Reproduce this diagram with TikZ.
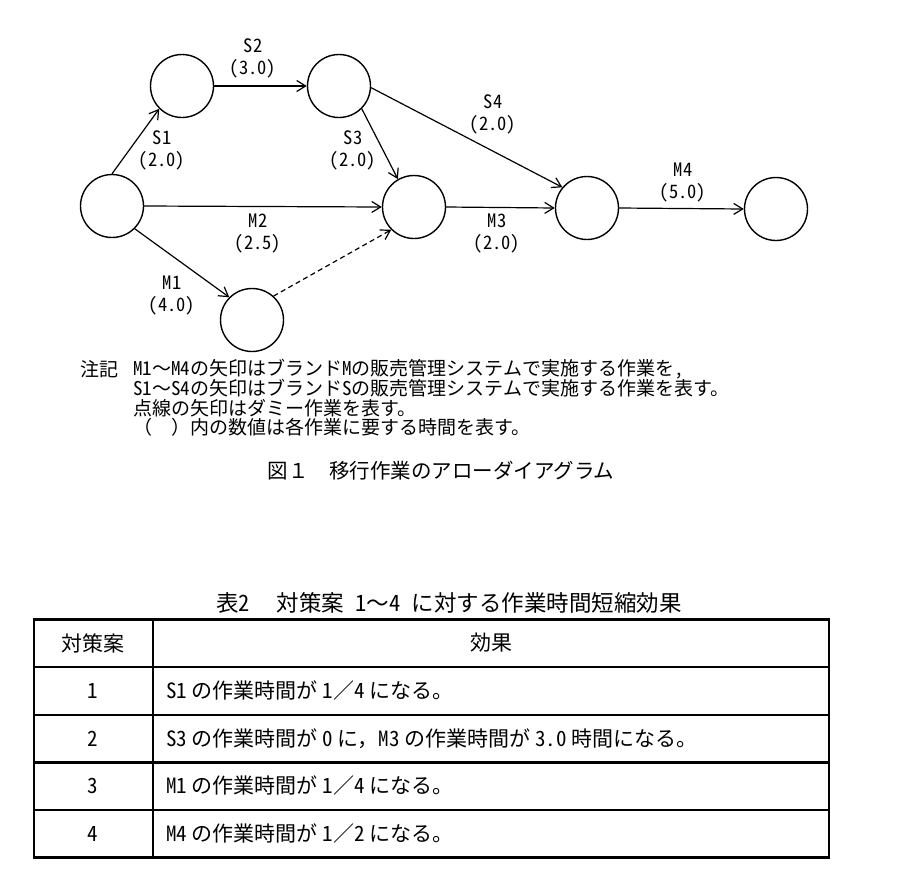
\documentclass[tikz,border=0pt]{standalone}
\usepackage{fontspec}
\setmainfont{Noto Sans CJK JP}
\newfontfamily\hwfont[RawFeature=+hwid]{Noto Sans CJK JP}
\newcommand{\hwtxt}[1]{{\hwfont #1}}
\usetikzlibrary{arrows.meta}
\begin{document}
\begin{tikzpicture}[x=1pt,y=-1pt,
  ev/.style={circle,draw,line width=1.4pt,minimum size=63pt,inner sep=0pt},
  act/.style={line width=1.2pt,-{Straight Barb[length=9pt,width=11pt]}},
  dummy/.style={act,dash pattern=on 5pt off 3.5pt},
  lab/.style={align=center,font=\hwfont\fontsize{18.5}{22}\selectfont,inner sep=0pt},
  note/.style={anchor=west,inner sep=0pt,font=\fontsize{19}{19}\selectfont},
  cell/.style={inner sep=0pt,font=\fontsize{21}{21}\selectfont},
  rulel/.style={line width=2.2pt}
]
\useasboundingbox (0,0) rectangle (900,887);
\fill[white] (0,0) rectangle (900,887);

% events
\node[ev] (A) at (112,206) {};
\node[ev] (B) at (182,86) {};
\node[ev] (C) at (339,86) {};
\node[ev] (D) at (414,207) {};
\node[ev] (E) at (252,320) {};
\node[ev] (F) at (587,208) {};
\node[ev] (G) at (776,209) {};

% activities
\draw[act] (A.90) -- (B.225);
\draw[act] (B.east) -- (C.west);
\draw[act] (C.-45) -- (D.120);
\draw[act] (C.-3) -- (F.140);
\draw[act] (A.east) -- (D.west);
\draw[act] (A.-45) -- (E.135);
\draw[dummy] (E.48) -- (D.225);
\draw[act] (D.east) -- (F.west);
\draw[act] (F.east) -- (G.west);

% labels
\node[lab] (lS2) at (253,58) {S2\\(3.0)};
\node[lab] (lS1) at (162,150) {S1\\(2.0)};
\node[lab] (lS3) at (353,150) {S3\\(2.0)};
\node[lab] (lM2) at (258,233.5) {M2\\(2.5)};
\node[lab] (lM1) at (172,295.5) {M1\\(4.0)};
\node[lab] (lS4) at (493,114) {S4\\(2.0)};
\node[lab] (lM3) at (497,234) {M3\\(2.0)};
\node[lab] (lM4) at (683,183) {M4\\(5.0)};

% notes
\node[note] (n0) at (80,369) {注記};
\node[note] (n1) at (133,369) {\hwtxt{M1}～\hwtxt{M4}の矢印はブランド\hwtxt{M}の販売管理システムで実施する作業を\hwtxt{,}};
\node[note] (n2) at (133,388.5) {\hwtxt{S1}～\hwtxt{S4}の矢印はブランド\hwtxt{S}の販売管理システムで実施する作業を表す。};
\node[note] (n3) at (133,408) {点線の矢印はダミー作業を表す。};
\node[note] (n4) at (133,427.5) {（　）内の数値は各作業に要する時間を表す。};

% caption
\node[inner sep=0pt,font=\fontsize{20.5}{20.5}\selectfont] (cap) at (441,471) {図１　移行作業のアローダイアグラム};

% table title
\node[inner sep=0pt,font=\fontsize{22.5}{22.5}\selectfont] (ttl) at (449,603) {表\hwtxt{2}\hspace{1.2em}対策案\hwtxt{ 1}～\hwtxt{4 }に対する作業時間短縮効果};

% table
\draw[rulel] (34,619.5) rectangle (829,857.5);
\draw[rulel] (34,667) -- (829,667);
\draw[rulel] (34,715) -- (829,715);
\draw[rulel] (34,762.5) -- (829,762.5);
\draw[rulel] (34,810) -- (829,810);
\draw[rulel] (153,619.5) -- (153,857.5);

\node[cell] (h1) at (93,643) {対策案};
\node[cell] (h2) at (491,643) {効果};
\node[cell] (r1) at (93,691) {\hwtxt{1}};
\node[cell] (r2) at (93,739) {\hwtxt{2}};
\node[cell] (r3) at (93,786) {\hwtxt{3}};
\node[cell] (r4) at (93,834) {\hwtxt{4}};
\node[cell,anchor=west] (e1) at (166,691) {\hwtxt{S1} の作業時間が \hwtxt{1}／\hwtxt{4} になる。};
\node[cell,anchor=west] (e2) at (166,739) {\hwtxt{S3} の作業時間が \hwtxt{0} に，\hwtxt{M3} の作業時間が \hwtxt{3.0} 時間になる。};
\node[cell,anchor=west] (e3) at (166,786) {\hwtxt{M1} の作業時間が \hwtxt{1}／\hwtxt{4} になる。};
\node[cell,anchor=west] (e4) at (166,834) {\hwtxt{M4} の作業時間が \hwtxt{1}／\hwtxt{2} になる。};
\end{tikzpicture}
\end{document}
